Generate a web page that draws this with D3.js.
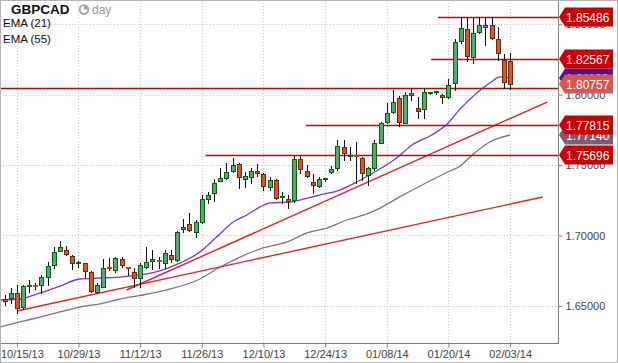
<!DOCTYPE html>
<html>
<head>
<meta charset="utf-8">
<script src="https://cdn.jsdelivr.net/npm/d3@7"></script>
<style>
  body { margin: 0; background: #fff; }
  svg { display: block; font-family: "Liberation Sans", Arial, sans-serif; }
</style>
</head>
<body>
<script>
// daily candles, 10/11/13 .. 02/04/14
const opens = [1.6546,1.6554,1.6594,1.6494,1.6633,1.6638,1.6648,1.6705,1.6790,1.6892,
  1.6897,1.6854,1.6801,1.6805,1.6741,1.6599,1.6634,1.6769,1.6755,1.6833,
  1.6769,1.6741,1.6698,1.6776,1.6819,1.6822,1.6805,1.6862,1.6826,1.7046,
  1.7082,1.7025,1.7096,1.7259,1.7302,1.7387,1.7408,1.7458,1.7508,1.7401,
  1.7416,1.7458,1.7437,1.7345,1.7394,1.7266,1.7259,1.7252,1.7543,1.7458,
  1.7380,1.7352,1.7391,1.7451,1.7479,1.7629,1.7561,1.7565,1.7550,1.7430,
  1.7479,1.7657,1.7806,1.7877,1.7977,1.7799,1.8001,1.7906,1.7899,1.8009,
  1.8010,1.7998,1.7984,1.8083,1.8381,1.8467,1.8268,1.8445,1.8484,1.8498,
  1.8396,1.8246,1.8239];
const highs = [1.6577,1.6627,1.6648,1.6648,1.6684,1.6663,1.6720,1.6812,1.6920,1.6963,
  1.6925,1.6862,1.6821,1.6807,1.6748,1.6663,1.6833,1.6840,1.6849,1.6847,
  1.6776,1.6769,1.6805,1.6920,1.6897,1.6849,1.6897,1.6897,1.7032,1.7117,
  1.7160,1.7110,1.7288,1.7311,1.7401,1.7479,1.7517,1.7550,1.7515,1.7453,
  1.7479,1.7508,1.7446,1.7416,1.7401,1.7311,1.7288,1.7565,1.7565,1.7501,
  1.7437,1.7416,1.7401,1.7494,1.7678,1.7678,1.7631,1.7666,1.7560,1.7489,
  1.7678,1.7808,1.7941,1.8033,1.7991,1.8021,1.8046,1.7986,1.8046,1.8016,
  1.8018,1.8005,1.8112,1.8396,1.8549,1.8545,1.8545,1.8549,1.8549,1.8549,
  1.8483,1.8290,1.8298];
const lows = [1.6506,1.6521,1.6450,1.6478,1.6601,1.6620,1.6594,1.6648,1.6767,1.6890,
  1.6862,1.6762,1.6778,1.6707,1.6599,1.6592,1.6631,1.6755,1.6743,1.6778,
  1.6720,1.6634,1.6634,1.6769,1.6762,1.6769,1.6769,1.6812,1.6821,1.7027,
  1.7034,1.6992,1.7091,1.7231,1.7247,1.7384,1.7401,1.7453,1.7337,1.7347,
  1.7373,1.7423,1.7323,1.7323,1.7257,1.7231,1.7195,1.7240,1.7442,1.7419,
  1.7302,1.7347,1.7387,1.7444,1.7465,1.7536,1.7536,1.7371,1.7394,1.7359,
  1.7465,1.7655,1.7797,1.7868,1.7778,1.7797,1.7962,1.7832,1.7832,1.8008,
  1.8008,1.7943,1.7974,1.8033,1.8369,1.8242,1.8227,1.8436,1.8353,1.8394,
  1.8247,1.8046,1.8038];
const closes = [1.6538,1.6594,1.6483,1.6641,1.6640,1.6631,1.6705,1.6783,1.6883,1.6916,
  1.6869,1.6805,1.6808,1.6748,1.6606,1.6648,1.6769,1.6759,1.6840,1.6791,
  1.6759,1.6698,1.6791,1.6812,1.6833,1.6812,1.6876,1.6833,1.7025,1.7060,
  1.7039,1.7096,1.7259,1.7288,1.7373,1.7408,1.7451,1.7501,1.7416,1.7423,
  1.7458,1.7444,1.7352,1.7394,1.7266,1.7273,1.7245,1.7543,1.7472,1.7423,
  1.7359,1.7401,1.7398,1.7472,1.7636,1.7586,1.7568,1.7558,1.7444,1.7479,
  1.7657,1.7799,1.7870,1.7948,1.7806,1.7998,1.8009,1.7884,1.8019,1.8015,
  1.8016,1.7987,1.8069,1.8374,1.8474,1.8275,1.8438,1.8495,1.8492,1.8403,
  1.8296,1.8090,1.80757];

// [bar index, value]
const ema21 = [[-0.7,1.6542],[2.5,1.6549],[5.8,1.6592],[9,1.6641],[12.2,1.6691],[15.5,1.6698],
  [18.7,1.6705],[22,1.6720],[25.2,1.6748],[28.5,1.6805],[31.7,1.6883],[34.4,1.6989],
  [37.1,1.7096],[39.3,1.7146],[41.4,1.7202],[43.1,1.7231],[46.3,1.7238],[47.9,1.7252],
  [51.2,1.7288],[54.4,1.7323],[57.7,1.7394],[60.6,1.7465],[63.8,1.7558],[66.1,1.7643],
  [69.3,1.7714],[71.8,1.7792],[73.9,1.7899],[76.6,1.8012],[78.7,1.8083],[80.4,1.8126],
  [82,1.8119]];
const ema55 = [[-0.7,1.6350],[2.5,1.6386],[5.8,1.6421],[9,1.6457],[12.2,1.6492],[15.5,1.6514],
  [18.7,1.6549],[22,1.6574],[26.3,1.6613],[31.7,1.6691],[35,1.6776],[38.2,1.6847],
  [41.4,1.6904],[45.8,1.6954],[49.1,1.7018],[52.3,1.7053],[55.5,1.7110],[58.8,1.7153],
  [60.9,1.7195],[64.1,1.7274],[69.3,1.7394],[71.9,1.7451],[73.9,1.7494],[75.5,1.7558],
  [78.7,1.7664],[82,1.7714]];

const trendSteep = [[19.8,1.6613],[88,1.7948]];
const trendLow = [[2,1.6464],[87.3,1.72735]];

const levelValues = [1.85486, 1.82567, 1.77815, 1.75696];
const levelStarts = [70.3, 69.2, 48.9, 32.6];
const supportLine = 1.8046;

const tickIdx = [2, 12, 22, 32, 42, 52, 62, 72, 82];
const tickLabels = ["10/15/13","10/29/13","11/12/13","11/26/13","12/10/13",
  "12/24/13","01/08/14","01/20/14","02/03/14"];
const priceTicks = [1.65, 1.70, 1.75, 1.80, 1.85];

const width = 618;
const height = 363;
const plotRight = 558;
const plotBottom = 343;

const svg = d3.select("body").append("svg")
  .attr("width", width)
  .attr("height", height);

const x = d3.scaleLinear().domain([0, 82]).range([4.5, 510.1]);
const y = d3.scaleLinear().domain([1.65, 1.85]).range([305.9, 24.3]);
const fmt = d3.format(".5f");
const px = (v) => Math.round(v) + 0.5;

svg.append("defs").append("clipPath").attr("id", "plot")
  .append("rect").attr("width", plotRight).attr("height", plotBottom);

// grid
svg.append("g").selectAll("line.v")
  .data(tickIdx).enter().append("line")
  .attr("x1", (d) => px(x(d))).attr("x2", (d) => px(x(d)))
  .attr("y1", 0).attr("y2", plotBottom)
  .attr("stroke", "#c8c8c8").attr("stroke-dasharray", "1,2");
svg.append("g").selectAll("line.h")
  .data(priceTicks).enter().append("line")
  .attr("x1", 0).attr("x2", plotRight)
  .attr("y1", (d) => px(y(d))).attr("y2", (d) => px(y(d)))
  .attr("stroke", "#c8c8c8").attr("stroke-dasharray", "1,2");

const plot = svg.append("g").attr("clip-path", "url(#plot)");

// moving averages
const line = d3.line().x((d) => x(d[0])).y((d) => y(d[1])).curve(d3.curveMonotoneX);
plot.append("path").attr("d", line(ema55))
  .attr("fill", "none").attr("stroke", "#8d6b80").attr("stroke-width", 1.3);
plot.append("path").attr("d", line(ema21))
  .attr("fill", "none").attr("stroke", "#7a38c2").attr("stroke-width", 1.3);

// trend lines
[trendSteep, trendLow].forEach((t) => {
  plot.append("line")
    .attr("x1", x(t[0][0])).attr("y1", y(t[0][1]))
    .attr("x2", x(t[1][0])).attr("y2", y(t[1][1]))
    .attr("stroke", "#ec1c24").attr("stroke-width", 1.4);
});

// horizontal levels
levelValues.forEach((v, i) => {
  plot.append("line")
    .attr("x1", x(levelStarts[i])).attr("x2", plotRight)
    .attr("y1", px(y(v))).attr("y2", px(y(v)))
    .attr("stroke", "#c80000").attr("stroke-width", 1.3);
});
plot.append("line")
  .attr("x1", 0).attr("x2", plotRight)
  .attr("y1", px(y(supportLine))).attr("y2", px(y(supportLine)))
  .attr("stroke", "#c80000").attr("stroke-width", 1.3);

// candles
const bars = plot.append("g").selectAll("g")
  .data(d3.range(opens.length)).enter().append("g");

bars.append("line")
  .attr("x1", (i) => px(x(i))).attr("x2", (i) => px(x(i)))
  .attr("y1", (i) => Math.round(y(highs[i]))).attr("y2", (i) => Math.round(y(lows[i])) + 1)
  .attr("stroke", "#111").attr("stroke-width", 1);

bars.each(function (i) {
  const g = d3.select(this);
  const up = closes[i] >= opens[i];
  const top = Math.round(y(Math.max(opens[i], closes[i])));
  const bot = Math.round(y(Math.min(opens[i], closes[i])));
  const left = Math.round(x(i)) - 2;
  if (bot - top < 2) {
    g.append("rect")
      .attr("x", left).attr("y", top - 1)
      .attr("width", 5).attr("height", 2)
      .attr("fill", up ? "#0b6b12" : "#b9471c");
  } else {
    g.append("rect")
      .attr("x", left + 0.5).attr("y", top + 0.5)
      .attr("width", 4).attr("height", bot - top)
      .attr("fill", up ? "#5aa572" : "#d9552b")
      .attr("stroke", up ? "#0b5d12" : "#6e2a10").attr("stroke-width", 1);
  }
});

// frame
svg.append("line").attr("x1", px(plotRight)).attr("x2", px(plotRight))
  .attr("y1", 0).attr("y2", plotBottom).attr("stroke", "#808080");
svg.append("line").attr("x1", 0).attr("x2", plotRight + 1)
  .attr("y1", px(plotBottom)).attr("y2", px(plotBottom)).attr("stroke", "#808080");

// axes
const yAxis = svg.append("g")
  .attr("transform", `translate(${px(plotRight)},0)`)
  .call(d3.axisRight(y).tickValues(priceTicks).tickFormat(fmt).tickSize(4).tickPadding(3));
const xAxis = svg.append("g")
  .attr("transform", `translate(0,${px(plotBottom)})`)
  .call(d3.axisBottom(x).tickValues(tickIdx).tickFormat((d, i) => tickLabels[i]).tickSize(4).tickPadding(3));

[yAxis, xAxis].forEach((a) => {
  a.select(".domain").remove();
  a.selectAll(".tick line").attr("stroke", "#808080");
  a.selectAll(".tick text")
    .attr("fill", "#444")
    .style("font-size", "11px")
    .style("font-family", "'Liberation Sans', Arial, sans-serif");
});
// keep the first date label inside the picture
xAxis.selectAll(".tick text").each(function () {
  const b = this.getBBox();
  const t = d3.select(this.parentNode).attr("transform");
  const tx = +t.match(/translate\(([-\d.]+)/)[1];
  const left = tx + b.x;
  if (left < 1) {
    const old = +d3.select(this).attr("x") || 0;
    d3.select(this).attr("x", old + (1 - left));
  }
});

// price tags
function tag(v, fill) {
  const c = Math.round(y(v));
  const g = svg.append("g");
  g.append("path")
    .attr("d", `M${plotRight + 1},${c} L${plotRight + 7},${c - 9.5} L613,${c - 9.5} L613,${c + 9.5} L${plotRight + 7},${c + 9.5} Z`)
    .attr("fill", fill);
  g.append("text")
    .attr("x", plotRight + 8).attr("y", c + 4.5)
    .attr("fill", "#fff")
    .style("font-size", "12px")
    .text(fmt(v));
}
tag(ema21[ema21.length - 1][1], "#560d8e");
tag(ema55[ema55.length - 1][1], "#7d5b70");
levelValues.forEach((v) => tag(v, "#cc0000"));
tag(closes[closes.length - 1], "#d9574c");

// header
svg.append("text").attr("x", 11).attr("y", 14)
  .style("font-size", "13.5px").style("font-weight", "bold")
  .attr("fill", "#111").text("GBPCAD");
svg.append("circle").attr("cx", 84).attr("cy", 9.5).attr("r", 4.3)
  .attr("fill", "none").attr("stroke", "#a0a0a0").attr("stroke-width", 1.8);
svg.append("path").attr("d", "M84,9.5 L84,5.8 A3.7,3.7 0 0,1 87.7,9.5 Z").attr("fill", "#a0a0a0");
svg.append("text").attr("x", 92).attr("y", 14)
  .style("font-size", "12px").attr("fill", "#999").text("day");
svg.append("text").attr("x", 3).attr("y", 27)
  .style("font-size", "11.5px").attr("fill", "#111").text("EMA (21)");
svg.append("text").attr("x", 3).attr("y", 43)
  .style("font-size", "11.5px").attr("fill", "#111").text("EMA (55)");

// outer border
svg.append("rect").attr("x", 0.5).attr("y", 0.5)
  .attr("width", width - 1).attr("height", height - 1)
  .attr("fill", "none").attr("stroke", "#b4b4b4");
</script>
</body>
</html>
